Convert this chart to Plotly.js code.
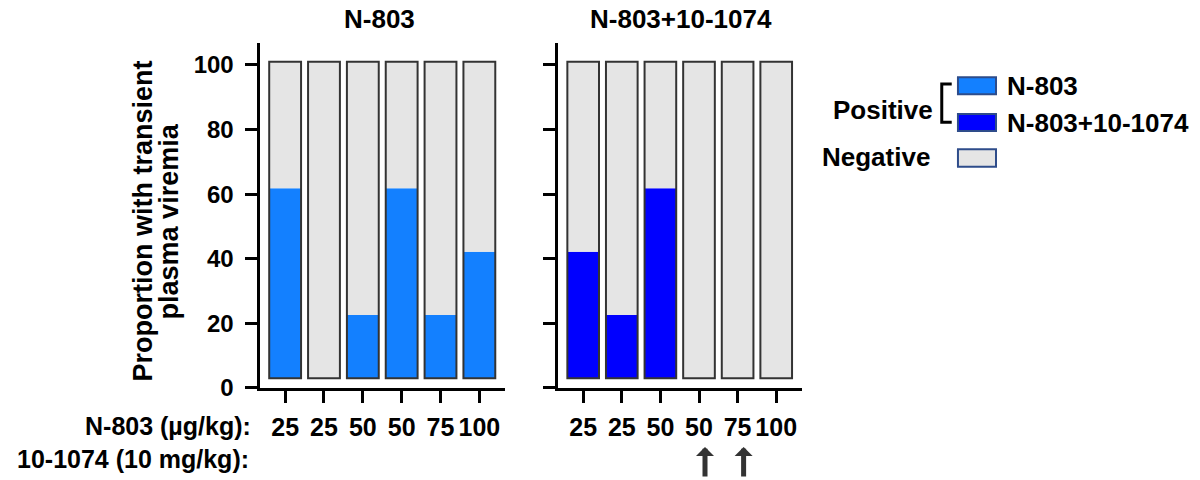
<!DOCTYPE html>
<html>
<head>
<meta charset="utf-8">
<script src="https://cdn.plot.ly/plotly-3.0.1.min.js"></script>
<style>html,body{margin:0;padding:0;background:#fff;}#chart{width:1200px;height:480px;}</style>
</head>
<body>
<div id="chart"></div>
<script>
// ---- data ----
const doseLabels = ["25", "25", "50", "50", "75", "100"];        // N-803 (µg/kg)
const n803Positive = [60, 0, 20, 60, 20, 40];                    // % positive, N-803
const comboPositive = [40, 20, 60, 0, 0, 0];                     // % positive, N-803+10-1074
const antibodyGiven = [false, false, false, true, true, false];  // 10-1074 (10 mg/kg) arrows
const panelTitles = ["N-803", "N-803+10-1074"];
const yTicks = [0, 20, 40, 60, 80, 100];
const yTitleLines = ["Proportion with transient", "plasma viremia"];

// ---- styling ----
const FONT = "Liberation Sans, Arial, Helvetica, sans-serif";
const C_N803 = "#1380FF";
const C_COMBO = "#0000FF";
const C_NEG = "#E5E5E5";
const OUTLINE = "#333333";
// Prism-style offset: bars drawn from 3 to 101 on the 0-100 axis
const BASE = 3, SCALE = 0.98;

const xs = doseLabels.map((_, i) => i);
const BW = 0.82;

function panelTraces(pos, color, xa, ya) {
  const posH = pos.map(p => p * SCALE);
  const negH = pos.map(p => (100 - p) * SCALE);
  const negBase = pos.map(p => BASE + p * SCALE);
  return [
    {type: "bar", x: xs, y: posH, base: BASE, width: BW, xaxis: xa, yaxis: ya,
     marker: {color: color, line: {width: 0}}, hoverinfo: "skip", showlegend: false},
    {type: "bar", x: xs, y: negH, base: negBase, width: BW, xaxis: xa, yaxis: ya,
     marker: {color: C_NEG, line: {width: 0}}, hoverinfo: "skip", showlegend: false},
    {type: "bar", x: xs, y: xs.map(() => 100 * SCALE), base: BASE, width: BW, xaxis: xa, yaxis: ya,
     marker: {color: "rgba(0,0,0,0)", line: {width: 2, color: OUTLINE}}, hoverinfo: "skip", showlegend: false}
  ];
}

const data = [
  ...panelTraces(n803Positive, C_N803, "x", "y"),
  ...panelTraces(comboPositive, C_COMBO, "x2", "y2")
];

const axX = (dom) => ({
  domain: dom, range: [-0.66, 5.66], showgrid: false, zeroline: false,
  showline: true, linewidth: 3, linecolor: "#000",
  ticks: "outside", ticklen: 12, tickwidth: 3, tickcolor: "#000",
  tickvals: xs, ticktext: doseLabels, ticklabelstandoff: 3,
  tickfont: {family: FONT, size: 25, color: "#000", weight: 700}, fixedrange: true
});
const axY = (anchor, labels) => ({
  domain: [0.19167, 0.91042], range: [0, 106.8], anchor: anchor,
  showgrid: false, zeroline: false, showline: true, linewidth: 3, linecolor: "#000",
  ticks: "outside", ticklen: 12, tickwidth: 3, tickcolor: "#000",
  tickvals: yTicks, showticklabels: labels, ticklabelstandoff: 6,
  tickfont: {family: FONT, size: 24, color: "#000", weight: 700}, fixedrange: true
});

const txt = (text, x, y, xanchor, size, extra) => Object.assign({
  text: text, x: x, y: y, xref: "paper", yref: "paper", xanchor: xanchor, yanchor: "middle",
  showarrow: false, font: {family: FONT, size: size, color: "#000", weight: 700}
}, extra || {});

const annotations = [
  txt(panelTitles[0], 0.3163, 0.9604, "center", 26),
  txt(panelTitles[1], 0.5675, 0.9604, "center", 26),
  txt("N-803 (µg/kg):", 0.2108, 0.1125, "right", 25),
  txt("10-1074 (10 mg/kg):", 0.2092, 0.04375, "right", 25),
  txt(yTitleLines[0], 0.1195, 0.5396, "center", 27, {textangle: -90}),
  txt(yTitleLines[1], 0.1412, 0.5396, "center", 27, {textangle: -90}),
  txt("Positive", 0.7792, 0.7708, "right", 26),
  txt("Negative", 0.7767, 0.6729, "right", 26),
  txt("N-803", 0.8375, 0.8198, "left", 26),
  txt("N-803+10-1074", 0.8375, 0.7438, "left", 26)
];
antibodyGiven.forEach((g, i) => {
  if (g) annotations.push({
    x: i, xref: "x2", y: 0.06875, yref: "paper", text: "", showarrow: true,
    xshift: 6, ax: 0, ay: 31, axref: "pixel", ayref: "pixel",
    arrowhead: 1, arrowsize: 0.6, arrowwidth: 5, arrowcolor: "#333333", standoff: 0
  });
});

const box = (y0, y1, fill) => ({
  type: "rect", xref: "paper", yref: "paper", x0: 0.7983, x1: 0.83, y0: y0, y1: y1,
  fillcolor: fill, line: {color: "#2E4C8A", width: 2}
});
const shapes = [
  box(0.8035, 0.839, C_N803),
  box(0.7271, 0.7625, C_COMBO),
  box(0.6527, 0.6890, C_NEG),
  {type: "path", xref: "paper", yref: "paper",
   path: "M0.7931,0.825 L0.7848,0.825 L0.7848,0.7452 L0.7931,0.7452",
   line: {color: "#000", width: 3}}
];

const layout = {
  width: 1200, height: 480, margin: {l: 0, r: 0, t: 0, b: 0},
  paper_bgcolor: "#fff", plot_bgcolor: "rgba(0,0,0,0)",
  barmode: "overlay", showlegend: false,
  font: {family: FONT, color: "#000", weight: 700},
  xaxis: axX([0.21625, 0.42083]), yaxis: axY("x", true),
  xaxis2: Object.assign(axX([0.46475, 0.66808]), {anchor: "y2"}),
  yaxis2: axY("x2", false),
  annotations: annotations, shapes: shapes
};

Plotly.newPlot("chart", data, layout, {displayModeBar: false, staticPlot: true});
</script>
</body>
</html>
